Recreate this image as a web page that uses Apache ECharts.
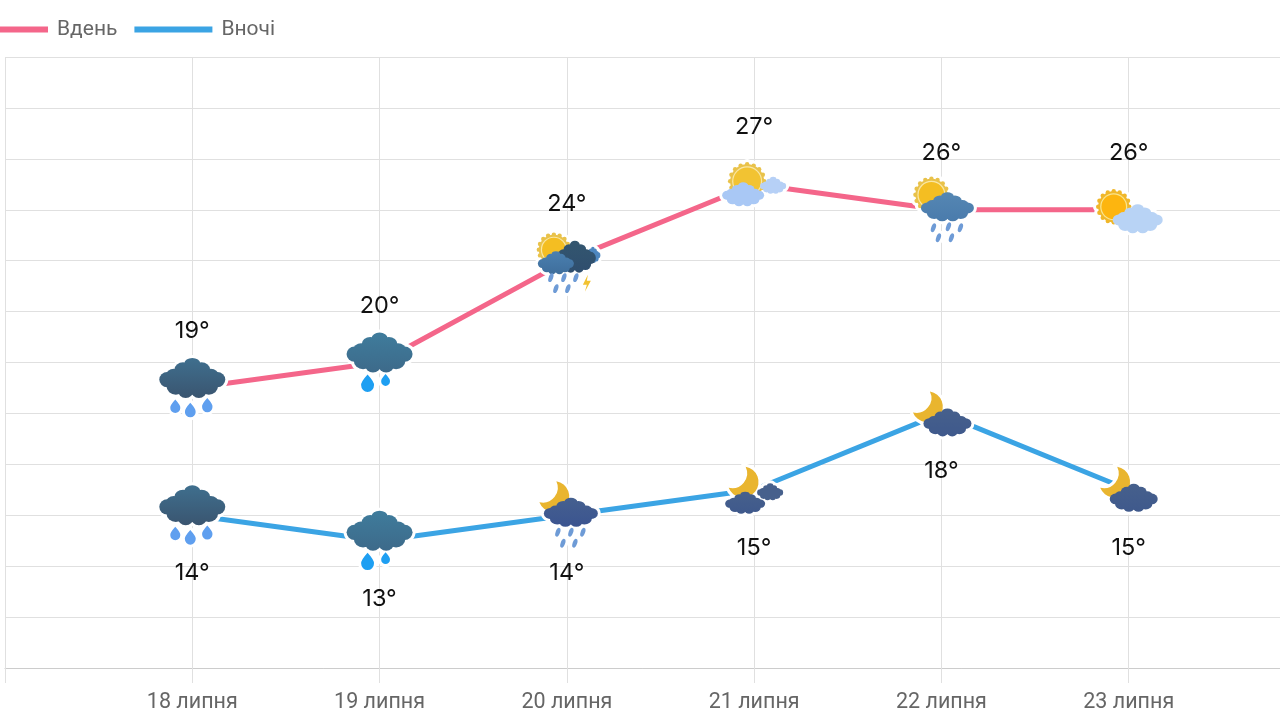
<!DOCTYPE html>
<html>
<head>
<meta charset="utf-8">
<style>html,body{margin:0;padding:0;background:#fff}#chart{width:1280px;height:720px}</style>
<script src="https://cdn.jsdelivr.net/npm/echarts@6/dist/echarts.min.js"></script>
</head>
<body>
<div id="chart"></div>
<script>
// first and last categories are empty, the chart runs past the right edge
var days = ['', '18 липня', '19 липня', '20 липня', '21 липня', '22 липня', '23 липня', ''];
var dayTemps = [null, 19, 20, 24, 27, 26, 26, null];
var nightTemps = [null, 14, 13, 14, 15, 18, 15, null];
var dayWeather = ['', 'rain', 'shower', 'storm', 'sunCloudy', 'sunRain', 'sunLight', ''];
var nightWeather = ['', 'rain', 'shower', 'moonRain', 'moonCloudy', 'moonCloud', 'moonCloud2', ''];

var gradId = 0;
var cloudParts = [[0,-.72,.24,.28],[-.28,-.42,.26,.36],[.28,-.42,.26,.36],[-.56,-.12,.24,.34],[.56,-.12,.24,.34],
  [-.76,.08,.24,.38],[.76,.08,.24,.38],[-.5,.42,.28,.42],[.5,.42,.28,.42],[-.2,.62,.24,.38],[.2,.62,.24,.38],[0,.12,.6,.72]];

// all icon shapes are drawn around 0,0 which is the data point
function cloud(x, y, w, h, top, bottom) {
  var id = 'g' + (gradId++);
  var a = w / 2, b = h / 2;
  var s = '<linearGradient id="' + id + '" gradientUnits="userSpaceOnUse" x1="0" x2="0" y1="' + (y - b) + '" y2="' + (y + b) + '">' +
    '<stop offset="0" stop-color="' + top + '"/><stop offset="1" stop-color="' + (bottom || top) + '"/></linearGradient>';
  cloudParts.forEach(function (p) {
    s += '<ellipse cx="' + (x + p[0] * a) + '" cy="' + (y + p[1] * b) + '" rx="' + (p[2] * a) + '" ry="' + (p[3] * b) + '" fill="url(#' + id + ')"/>';
  });
  return s;
}
function sun(x, y, r, rays, ring, core) {
  var s = '';
  for (var i = 0; i < 16; i++) {
    var t = i * Math.PI / 8;
    s += '<circle cx="' + (x + Math.cos(t) * r) + '" cy="' + (y + Math.sin(t) * r) + '" r="2.2" fill="' + rays + '"/>';
  }
  s += '<circle cx="' + x + '" cy="' + y + '" r="' + r + '" fill="' + rays + '"/>';
  s += '<circle cx="' + x + '" cy="' + y + '" r="' + (r - 2) + '" fill="' + ring + '"/>';
  s += '<circle cx="' + x + '" cy="' + y + '" r="' + (r - 3.2) + '" fill="' + core + '"/>';
  return s;
}
function moon(x, y) {
  return '<path transform="translate(' + x + ' ' + y + ')" d="M2.5 -15A15.5 15.5 0 1 1 -14.5 6A15 15 0 0 0 2.5 -15Z" fill="#E9B52F"/>';
}
function drop(x, y, r, color) {
  return '<path d="M' + x + ' ' + (y - 1.7 * r) + 'Q' + (x + 1.1 * r) + ' ' + (y - .5 * r) + ' ' + (x + r) + ' ' + y +
    'A' + r + ' ' + r + ' 0 1 1 ' + (x - r) + ' ' + y + 'Q' + (x - 1.1 * r) + ' ' + (y - .5 * r) + ' ' + x + ' ' + (y - 1.7 * r) + 'Z" fill="' + color + '"/>';
}
function streaks(list, color) {
  return list.map(function (p) {
    return '<ellipse cx="' + p[0] + '" cy="' + p[1] + '" rx="2.2" ry="4.6" transform="rotate(20 ' + p[0] + ' ' + p[1] + ')" fill="' + color + '"/>';
  }).join('');
}

var shapes = {
  rain: cloud(0, -10, 66, 40, '#3F6F8E', '#3A5570') + drop(-17, 20, 5, '#5F9FEF') + drop(-2, 24, 5.4, '#5F9FEF') + drop(15, 19, 5.2, '#5F9FEF'),
  shower: cloud(0, -10, 66, 40, '#3F7C9C', '#3D6A8A') + drop(-12, 23, 6.4, '#1E9FF2') + drop(6, 19, 4.4, '#1E9FF2'),
  storm: sun(-13, -11, 15, '#E9C24A', '#F9E7A6', '#F4BE22') + cloud(26, -6, 15, 16, '#4D86BF') + cloud(8, -4, 42, 32, '#33566F', '#2F4E6E') +
    cloud(-11, 2, 36, 23, '#4A80B0', '#3F6E9C') + streaks([[-16, 17], [-3, 17], [9, 17], [-11, 28], [1, 28]], '#6E9BD6') +
    '<path d="M21 14L16 24L20 24L18 31L24 20L20 20Z" fill="#F2C230"/>',
  sunCloudy: sun(-7, -3, 17, '#E9C24A', '#F9E7A6', '#F2C332') + cloud(19, 1, 26, 17, '#B6D0F6') + cloud(-11, 10, 42, 24, '#A9C8F5'),
  sunRain: sun(-10, -15, 16, '#E9C24A', '#F9E7A6', '#F4BE22') + cloud(6, -3, 53, 29, '#5587B3', '#4A7BAC') +
    streaks([[-8, 18], [7, 17], [19, 18], [-3, 28], [10, 28]], '#6E9BD6'),
  sunLight: sun(-15, -3, 15.5, '#F0B72A', '#F9E58F', '#FDB50F') + cloud(9, 9, 50, 29, '#B8D3F5'),
  moonRain: moon(-13, -19) + cloud(4, -3, 54, 29, '#45608F', '#3B5490') + streaks([[-9, 17], [4, 17], [16, 17], [-4, 28], [8, 28]], '#6E9BD6'),
  moonCloudy: moon(-11, -8) + cloud(16, 2, 26, 17, '#46608C') + cloud(-9, 13, 40, 22, '#46608C', '#3F598C'),
  moonCloud: moon(-14, -7) + cloud(6, 9, 48, 28, '#46608C', '#3F598C'),
  moonCloud2: moon(-14, -8) + cloud(5, 8, 48, 28, '#46608C', '#3F598C')
};

function iconUrl(name) {
  if (!name) return 'none';
  var body = shapes[name];
  // white halo under the icon is what breaks the line around it
  var halo = body.replace(/<linearGradient.*?<\/linearGradient>/g, '').replace(/fill="[^"]*"/g, 'fill="#fff" stroke="#fff" stroke-width="6"');
  var svg = '<svg xmlns="http://www.w3.org/2000/svg" width="80" height="80" viewBox="-40 -40 80 80">' + halo + body + '</svg>';
  return 'image://data:image/svg+xml;charset=utf-8,' + encodeURIComponent(svg);
}

function tempSeries(name, values, weather, color, pos, dist) {
  return {
    name: name,
    type: 'line',
    data: values,
    showAllSymbol: true,
    symbol: function (v, p) { return iconUrl(weather[p.dataIndex]); },
    symbolSize: 80,
    lineStyle: { color: color, width: 5 },
    itemStyle: { color: color },
    label: {
      show: true,
      position: pos,
      distance: dist,
      fontFamily: 'Inter',
      fontSize: 23.5,
      color: '#111',
      formatter: function (p) { return p.value + '°'; }
    }
  };
}

var myChart = echarts.init(document.getElementById('chart'));
myChart.setOption({
  animation: false,
  backgroundColor: '#fff',
  legend: {
    left: -35,
    top: 14,
    icon: 'rect',
    itemWidth: 78,
    itemHeight: 6,
    itemGap: 17,
    textStyle: { color: '#666', fontFamily: 'Roboto', fontSize: 21, padding: [0, 0, 0, 4] },
    data: ['Вдень', 'Вночі']
  },
  grid: { left: 5, right: -36, top: 57, bottom: 52, outerBoundsMode: 'none' },
  xAxis: {
    type: 'category',
    boundaryGap: false,
    data: days,
    axisLine: { lineStyle: { color: '#ccc' } },
    axisTick: { length: 15, alignWithLabel: true, lineStyle: { color: '#e0e0e0' } },
    axisLabel: { interval: 0, color: '#666', fontFamily: 'Roboto', fontSize: 21.5, margin: 24 },
    splitLine: { show: true, lineStyle: { color: '#e0e0e0' } }
  },
  yAxis: {
    type: 'value',
    min: 8,
    max: 32,
    interval: 2,
    axisLine: { show: false },
    axisTick: { show: false },
    axisLabel: { show: false },
    splitLine: { lineStyle: { color: '#e0e0e0' } }
  },
  series: [
    tempSeries('Вдень', dayTemps, dayWeather, '#F4668A', 'top', 5),
    tempSeries('Вночі', nightTemps, nightWeather, '#3BA4E4', 'bottom', 6)
  ]
});
</script>
</body>
</html>
